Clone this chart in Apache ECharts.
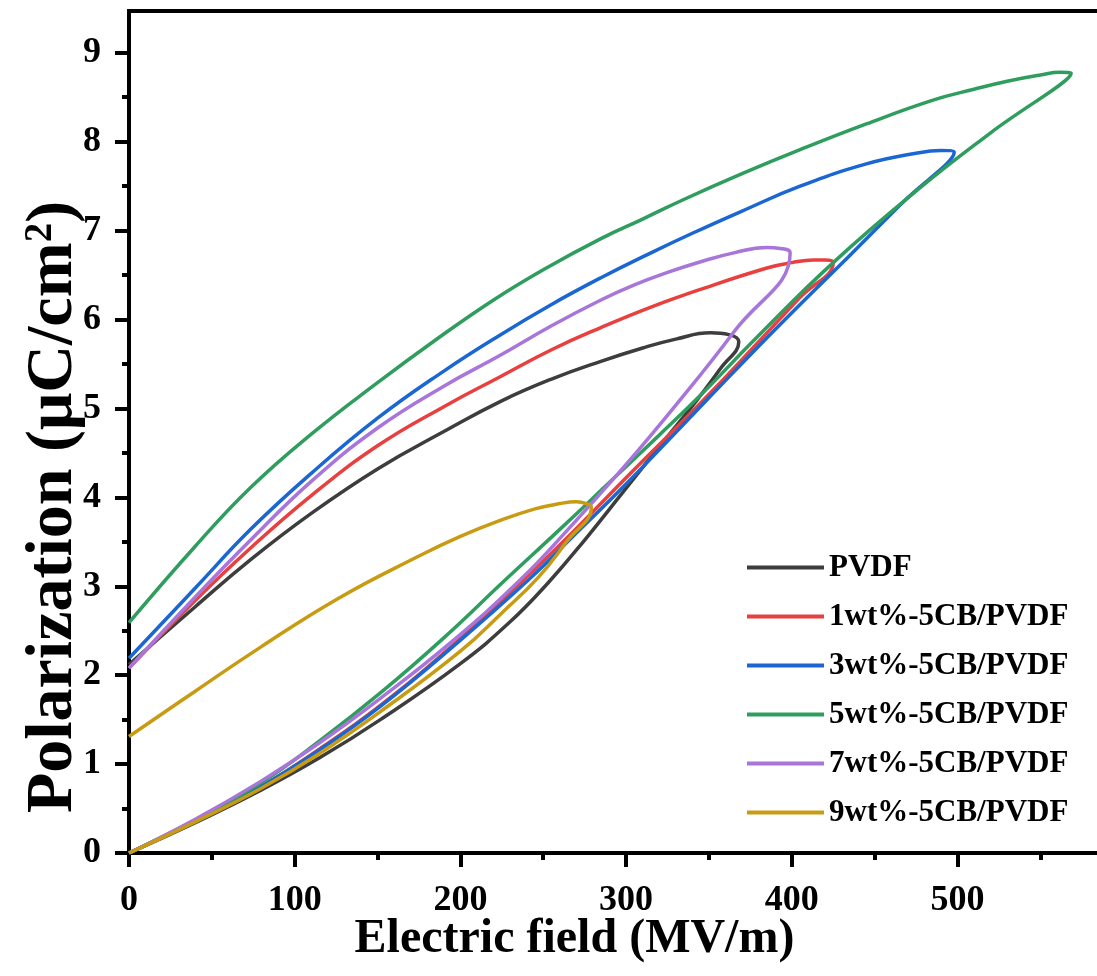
<!DOCTYPE html>
<html>
<head>
<meta charset="utf-8">
<script src="https://cdn.jsdelivr.net/npm/echarts@6/dist/echarts.min.js"></script>
<style>
html, body { margin: 0; padding: 0; background: #fff; }
#chart { width: 1097px; height: 976px; }
</style>
</head>
<body>
<div id="chart"></div>
<script>
var seriesNames = ["PVDF", "1wt%-5CB/PVDF", "3wt%-5CB/PVDF", "5wt%-5CB/PVDF", "7wt%-5CB/PVDF", "9wt%-5CB/PVDF"]
var seriesColors = ["#3d3d3d", "#e8403f", "#1a66d2", "#2e9d5e", "#a876da", "#c99b12"]

// each loop: charging branch from (0,0) up to the tip, then the discharge branch back to E = 0
var loopPVDF = [[0, 0], [40, 0.34], [79, 0.70], [115, 1.07], [151.7, 1.50], [200, 2.13], [230, 2.60], [253, 3.04], [275, 3.52], [298.6, 4.07], [320, 4.57], [343, 5.10], [357, 5.45], [368, 5.75],
    [362, 5.83], [351, 5.85], [330, 5.78], [310, 5.68], [284.8, 5.53], [255, 5.33], [224.3, 5.08], [190, 4.74], [150, 4.32], [110, 3.82], [73.4, 3.30], [40, 2.77], [0, 2.12]]
var loop1wt = [[0, 0], [40, 0.36], [79, 0.74], [115, 1.17], [151.7, 1.66], [195, 2.33], [238, 3.07], [270, 3.65], [300, 4.22], [347, 5.10], [380, 5.75], [405, 6.25], [425, 6.64],
    [420, 6.67], [413, 6.67], [400, 6.64], [385, 6.58], [345, 6.34], [315, 6.14], [284.8, 5.91], [255, 5.66], [224.3, 5.36], [190, 5.02], [150, 4.58], [110, 4.02], [73.4, 3.43], [40, 2.84], [0, 2.08]]
var loop3wt = [[0, 0], [40, 0.36], [79, 0.74], [115, 1.16], [151.7, 1.65], [196, 2.33], [241, 3.07], [270, 3.60], [300, 4.15], [349, 5.10], [380, 5.70], [405, 6.17], [435, 6.72], [466, 7.30], [498, 7.88],
    [490, 7.90], [475, 7.87], [445, 7.75], [405, 7.50], [370, 7.22], [340, 6.97], [315, 6.75], [284.8, 6.47], [255, 6.17], [224.3, 5.83], [190, 5.42], [150, 4.89], [110, 4.27], [73.4, 3.64], [40, 2.98], [0, 2.19]]
var loop5wt = [[0, 0], [40, 0.37], [79, 0.78], [115, 1.26], [151.7, 1.80], [190, 2.42], [227, 3.07], [260, 3.64], [290, 4.17], [320, 4.70], [345, 5.15], [380, 5.82], [425, 6.64], [476, 7.46], [520, 8.10], [568.6, 8.77],
    [562, 8.78], [550, 8.75], [530, 8.68], [510, 8.59], [485.7, 8.47], [445, 8.20], [405, 7.91], [370, 7.64], [334.8, 7.35], [310, 7.13], [284.8, 6.91], [250, 6.56], [220, 6.22], [185, 5.77], [150, 5.29], [110, 4.71], [73.4, 4.11], [40, 3.45], [0, 2.59]]
var loop7wt = [[0, 0], [40, 0.38], [79, 0.80], [115, 1.24], [151.7, 1.74], [195, 2.38], [236, 3.07], [265, 3.64], [300, 4.37], [331, 5.06], [365, 5.86], [399, 6.75],
    [393, 6.80], [385, 6.81], [365, 6.75], [345, 6.65], [325, 6.53], [305, 6.39], [284.8, 6.22], [255, 5.93], [224.3, 5.60], [190, 5.25], [150, 4.78], [110, 4.18], [73.4, 3.52], [40, 2.88], [0, 2.08]]
var loop9wt = [[0, 0], [40, 0.35], [79, 0.72], [115, 1.12], [151.7, 1.59], [200, 2.27], [225, 2.70], [247, 3.10], [264, 3.50], [279, 3.89],
    [276, 3.93], [270, 3.95], [260, 3.93], [245, 3.87], [224, 3.74], [200, 3.56], [175, 3.34], [126, 2.86], [79, 2.31], [40, 1.82], [0, 1.31]]

var xMajorTicks = [0, 100, 200, 300, 400, 500]
var xMinorTicks = [50, 150, 250, 350, 450, 550]
var yMajorTicks = [0, 1, 2, 3, 4, 5, 6, 7, 8, 9]
var yMinorTicks = [0.5, 1.5, 2.5, 3.5, 4.5, 5.5, 6.5, 7.5, 8.5]

var loops = [loopPVDF, loop1wt, loop3wt, loop5wt, loop7wt, loop9wt]
var font = "'Times New Roman', 'Liberation Serif', serif"
var xMax = 586
var yMax = 9.47

var majorAxis = function(ticks) {
    return {
        type: 'value',
        min: 0,
        axisLine: { show: true, lineStyle: { color: '#000', width: 4 } },
        axisTick: { show: true, customValues: ticks, length: 14, lineStyle: { color: '#000', width: 4 } },
        axisLabel: { customValues: ticks, color: '#000', fontFamily: font, fontWeight: 'bold', fontSize: 36 },
        splitLine: { show: false }
    }
}
var minorAxis = function(ticks) {
    return {
        type: 'value',
        min: 0,
        axisLine: { show: false },
        axisTick: { show: true, customValues: ticks, length: 7, lineStyle: { color: '#000', width: 4 } },
        axisLabel: { show: false },
        splitLine: { show: false }
    }
}

var xMain = majorAxis(xMajorTicks)
xMain.max = xMax
xMain.position = 'bottom'
xMain.axisLabel.margin = 30
xMain.name = 'Electric field (MV/m)'
xMain.nameLocation = 'middle'
xMain.nameGap = 63
xMain.nameMoveOverlap = false
xMain.nameTextStyle = { color: '#000', fontFamily: font, fontWeight: 'bold', fontSize: 48, padding: [0, 80, 0, 0] }
var xMinor = minorAxis(xMinorTicks)
xMinor.max = xMax
xMinor.position = 'bottom'
xMinor.offset = 0

var yMain = majorAxis(yMajorTicks)
yMain.max = yMax
yMain.position = 'left'
yMain.axisLabel.margin = 28
yMain.name = 'Polarization (μC/cm{sup|2})'
yMain.nameLocation = 'middle'
yMain.nameGap = 42
yMain.nameMoveOverlap = false
yMain.nameTextStyle = {
    color: '#000', fontFamily: font, fontWeight: 'bold', fontSize: 66, padding: [0, 150, 0, 0],
    rich: { sup: { color: '#000', fontFamily: font, fontWeight: 'bold', fontSize: 39, verticalAlign: 'top' } }
}
var yMinor = minorAxis(yMinorTicks)
yMinor.max = yMax
yMinor.position = 'left'
yMinor.offset = 0

var srs = []
for (var i = 0; i < loops.length; i++) {
    srs.push({
        name: seriesNames[i],
        type: 'line',
        xAxisIndex: 0,
        yAxisIndex: 0,
        data: loops[i],
        symbol: 'none',
        smooth: 0.45,
        color: seriesColors[i],
        lineStyle: { width: 3.5, color: seriesColors[i] }
    })
}

var chartDom = document.getElementById('chart')
var myChart = echarts.init(chartDom, null, { renderer: 'canvas' })
var option = {
    animation: false,
    backgroundColor: '#fff',
    grid: {
        left: 129, right: -3, top: 11, bottom: 123,
        outerBoundsMode: 'none', containLabel: false,
        show: true, borderColor: '#000', borderWidth: 4, backgroundColor: 'transparent'
    },
    legend: {
        orient: 'vertical',
        left: 742,
        top: 547,
        icon: 'rect',
        itemWidth: 77,
        itemHeight: 4,
        itemGap: 18,
        data: seriesNames,
        textStyle: { color: '#000', fontFamily: font, fontWeight: 'bold', fontSize: 31 }
    },
    xAxis: [xMain, xMinor],
    yAxis: [yMain, yMinor],
    series: srs
}
option && myChart.setOption(option)
</script>
</body>
</html>
